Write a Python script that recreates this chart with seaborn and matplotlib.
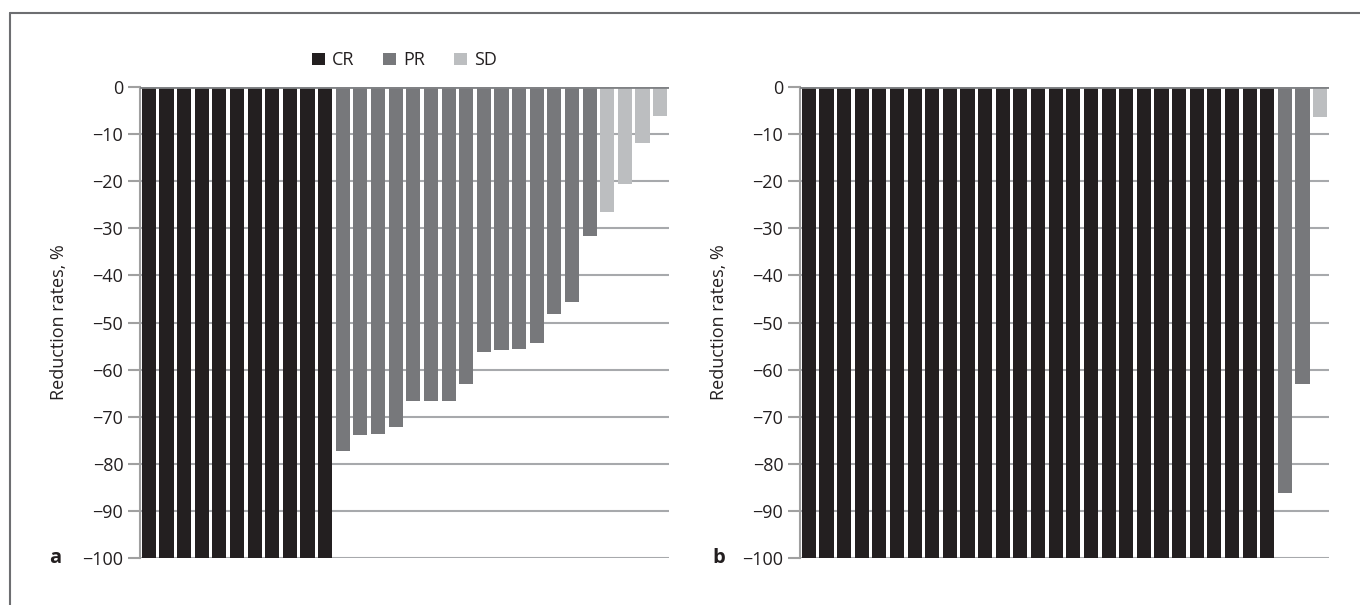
import matplotlib
matplotlib.use("Agg")
import matplotlib.pyplot as plt
import seaborn as sns
import pandas as pd
from matplotlib.lines import Line2D

# ---- data ----
resp_a = ["CR"] * 11 + ["PR"] * 15 + ["SD"] * 4
vals_a = [-100] * 11 + [-77.2, -73.8, -73.6, -72.2, -66.6, -66.6, -66.6, -63.0,
                        -56.2, -55.8, -55.6, -54.3, -48.3, -45.6, -31.6] + \
         [-26.6, -20.5, -11.8, -6.1]

resp_b = ["CR"] * 27 + ["PR"] * 2 + ["SD"]
vals_b = [-100] * 27 + [-86.3, -63.0] + [-6.3]

categories = ["CR", "PR", "SD"]
yticks = [0, -10, -20, -30, -40, -50, -60, -70, -80, -90, -100]
panel_labels = ["a", "b"]

colors = {"CR": "#231f20", "PR": "#77787b", "SD": "#bcbec0"}
txt = "#231f20"
FS = 13

sns.set_theme(style="white")
plt.rcParams["font.family"] = ["Open Sans", "DejaVu Sans"]
plt.rcParams["axes.unicode_minus"] = True

fig = plt.figure(figsize=(13.6, 6.05), dpi=100)
W, H = 1360, 605
y_top, y_bot = 87, 558
ax_w = 529
lefts = [140, 800]

for i, (resp, vals) in enumerate([(resp_a, vals_a), (resp_b, vals_b)]):
    ax = fig.add_axes([lefts[i] / W, 1 - y_bot / H, ax_w / W, (y_bot - y_top) / H])
    df = pd.DataFrame({"pt": [str(k) for k in range(len(vals))],
                       "val": vals, "resp": resp})
    sns.barplot(data=df, x="pt", y="val", hue="resp", hue_order=categories,
                palette=colors, dodge=False, width=0.8, saturation=1,
                ax=ax, legend=(i == 0), linewidth=0, zorder=2)
    ax.set_xlim(-0.5, len(vals) - 0.5)
    ax.set_ylim(-100, 0)
    ax.set_yticks(yticks)
    ax.set_yticklabels([("\u2212" + str(-t)) if t < 0 else str(t) for t in yticks],
                       fontsize=FS, color=txt)
    ax.set_xticks([])
    ax.set_xlabel("")
    ax.set_ylabel("Reduction rates, %", fontsize=FS, color=txt)
    ax.yaxis.set_label_coords(-0.136, 0.5)
    ax.set_axisbelow(True)
    ax.grid(axis="y", color="#a7a9ac", linewidth=1.5)
    ax.grid(axis="x", visible=False)
    for s in ["top", "right", "bottom"]:
        ax.spines[s].set_visible(False)
    ax.spines["left"].set_color("#a0a0a0")
    ax.spines["left"].set_linewidth(1.5)
    ax.tick_params(axis="y", length=9, width=1.5, color="#a0a0a0", pad=3, left=True)
    ax.axhline(0, color="#808285", linewidth=2, zorder=3)
    ax.text(-0.171 if i == 0 else -0.166, 0, panel_labels[i], transform=ax.transAxes,
            fontsize=14.5, fontweight="bold", color=txt, ha="left", va="center")
    if i == 0:
        sns.move_legend(ax, "center", bbox_to_anchor=(0.5, 1.057), ncol=3,
                        frameon=False, title=None, fontsize=FS,
                        handlelength=0.7, handleheight=0.7,
                        handletextpad=0.4, columnspacing=1.6)
        for t in ax.get_legend().get_texts():
            t.set_color(txt)

# outer frame (top and left edges)
fig.add_artist(Line2D([9.5 / W, 1], [1 - 12.5 / H, 1 - 12.5 / H],
                      transform=fig.transFigure, color="#6d6e71", linewidth=1.5))
fig.add_artist(Line2D([9.5 / W, 9.5 / W], [0, 1 - 12.5 / H],
                      transform=fig.transFigure, color="#6d6e71", linewidth=1.5))

fig.savefig("out.png", dpi=100)
